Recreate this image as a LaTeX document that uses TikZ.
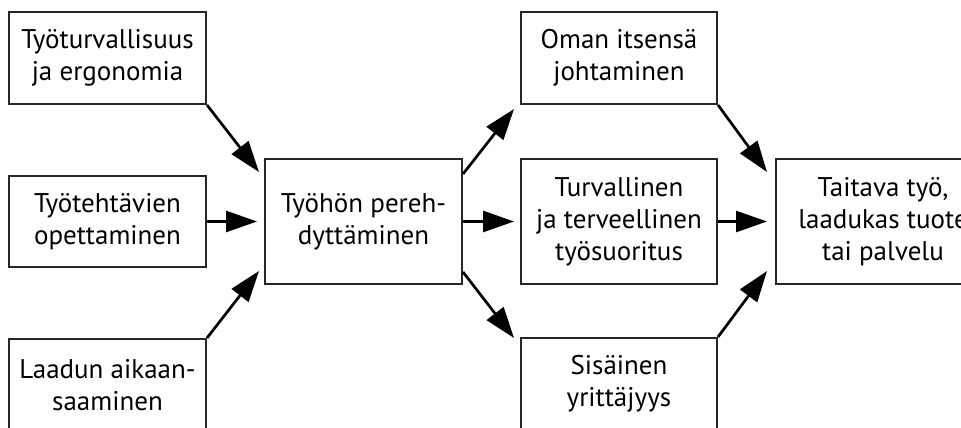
\documentclass[tikz,border=0pt]{standalone}
\usepackage{fontspec}
\setmainfont{PT Sans}
\usetikzlibrary{arrows.meta}
\begin{document}
\begin{tikzpicture}[x=1pt,y=-1pt,
  box/.style={draw=black!85,line width=2pt,rectangle,align=center,inner sep=0pt,
    font=\fontsize{27}{32}\selectfont},
  arr/.style={line width=2.7pt,-{Triangle[length=31pt,width=21pt]}}]
\useasboundingbox (0,0) rectangle (961,428);
\clip (0,0) rectangle (961,428);
\fill[white] (0,0) rectangle (961,428);
\node[box,minimum width=197pt,minimum height=92pt] (b1) at (107.5,58) {Työturvallisuus\\ja ergonomia};
\node[box,minimum width=197pt,minimum height=91pt] (b2) at (107.5,221.5) {Työtehtävien\\opettaminen};
\node[box,minimum width=197pt,minimum height=92pt] (b3) at (107.5,385) {Laadun aikaan-\\saaminen};
\node[box,minimum width=197pt,minimum height=125pt] (c) at (363.5,221.5) {Työhön pereh-\\dyttäminen};
\node[box,minimum width=196pt,minimum height=92pt] (o) at (619,58) {Oman itsensä\\johtaminen};
\node[box,minimum width=196pt,minimum height=125pt] (t) at (619,221.5) {Turvallinen\\ja terveellinen\\työsuoritus};
\node[box,minimum width=196pt,minimum height=92pt] (s) at (619,384) {Sisäinen\\yrittäjyys};
\node[box,minimum width=214pt,minimum height=125pt] (r) at (883,221.5) {Taitava työ,\\laadukas tuote\\tai palvelu};
\draw[arr] (b1.south east) -- ([xshift=-5pt,yshift=-14pt]c.north west);
\draw[arr] (b2.east) -- ([xshift=-7pt]c.west);
\draw[arr] (b3.north east) -- ([xshift=-5pt,yshift=14pt]c.south west);
\draw[arr] ([yshift=-16pt]c.north east) -- ([xshift=-6pt,yshift=-4pt]o.south west);
\draw[arr] (c.east) -- ([xshift=-6pt]t.west);
\draw[arr] ([yshift=13pt]c.south east) -- ([xshift=-6pt,yshift=-1pt]s.north west);
\draw[arr] (o.south east) -- ([xshift=-8pt,yshift=-14pt]r.north west);
\draw[arr] (t.east) -- ([xshift=-8pt]r.west);
\draw[arr] (s.north east) -- ([xshift=-8pt,yshift=14pt]r.south west);
\end{tikzpicture}
\end{document}
